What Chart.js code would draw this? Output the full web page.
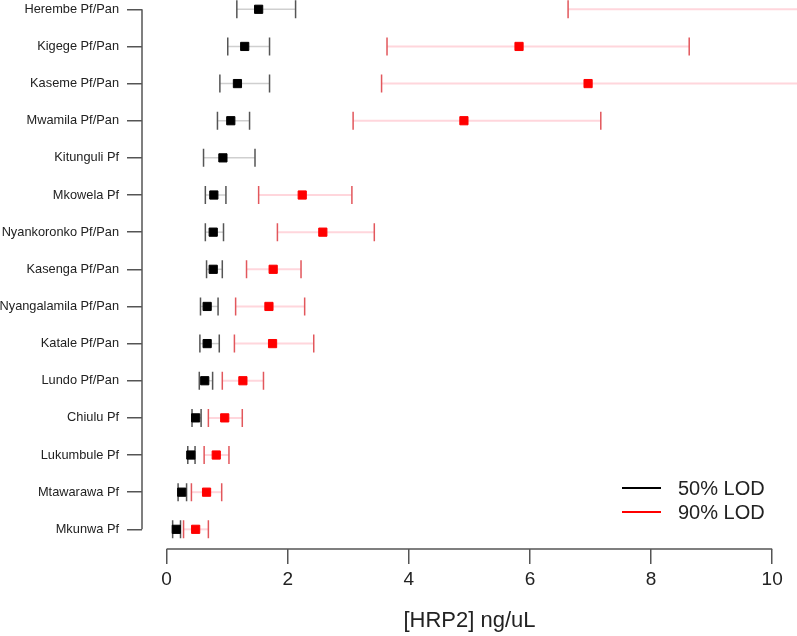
<!DOCTYPE html>
<html lang="en">
<head>
  <meta charset="UTF-8">
  <title>HRP2 LOD by site</title>
  <script src="https://cdn.jsdelivr.net/npm/chart.js"></script>
  <style>
    body { margin: 0; background: #fff; font-family: Arial, "Liberation Sans", sans-serif; }
    #wrap { position: relative; width: 797px; height: 636px; }
    .legend { position: absolute; left: 622px; top: 476px; font-size: 20px; color: #222; }
    .legend div { display: flex; align-items: center; height: 24px; }
    .legend .swatch { display: inline-block; width: 39px; height: 2px; margin-right: 17px; }
  </style>
</head>
<body>
  <div id="wrap">
    <canvas id="lodChart" width="797" height="636"></canvas>
    <div class="legend">
      <div><span class="swatch" style="background:#000"></span>50% LOD</div>
      <div><span class="swatch" style="background:#ff0000"></span>90% LOD</div>
    </div>
  </div>

  <script>
    // sites, top to bottom
    const sites = ['Herembe Pf/Pan', 'Kigege Pf/Pan', 'Kaseme Pf/Pan', 'Mwamila Pf/Pan', 'Kitunguli Pf',
      'Mkowela Pf', 'Nyankoronko Pf/Pan', 'Kasenga Pf/Pan', 'Nyangalamila Pf/Pan', 'Katale Pf/Pan',
      'Lundo Pf/Pan', 'Chiulu Pf', 'Lukumbule Pf', 'Mtawarawa Pf', 'Mkunwa Pf'];

    // 50% LOD estimate and interval (ng/uL)
    const lod50     = [1.52, 1.29, 1.17, 1.06, 0.93, 0.78, 0.77, 0.77, 0.67, 0.67, 0.63, 0.48, 0.40, 0.25, 0.16];
    const lod50Low  = [1.16, 1.01, 0.88, 0.84, 0.61, 0.64, 0.64, 0.66, 0.56, 0.55, 0.54, 0.42, 0.35, 0.19, 0.10];
    const lod50High = [2.13, 1.70, 1.70, 1.37, 1.46, 0.98, 0.94, 0.92, 0.85, 0.87, 0.76, 0.57, 0.47, 0.33, 0.23];

    // 90% LOD estimate and interval (Herembe/Kaseme run past the plot edge)
    const lod90     = [11.5, 5.82, 6.96, 4.91, null, 2.24, 2.58, 1.76, 1.69, 1.75, 1.26, 0.96, 0.82, 0.66, 0.48];
    const lod90Low  = [6.63, 3.64, 3.55, 3.08, null, 1.52, 1.83, 1.32, 1.14, 1.12, 0.92, 0.69, 0.62, 0.41, 0.28];
    const lod90High = [17.0, 8.63, 11.0, 7.17, null, 3.06, 3.43, 2.22, 2.28, 2.43, 1.60, 1.25, 1.03, 0.91, 0.69];

    const xTicks = [0, 2, 4, 6, 8, 10];

    const rowOf = i => sites.length - 1 - i;

    function toPoints(vals) {
      const pts = [];
      vals.forEach((v, i) => { if (v !== null) pts.push({ x: v, y: rowOf(i) }); });
      return pts;
    }

    // whiskers, caps and the R-style axis lines
    const errorBars = {
      id: 'errorBars',
      beforeDatasetsDraw(chart) {
        const { ctx, chartArea, scales: { x, y } } = chart;
        ctx.save();
        ctx.beginPath();
        ctx.rect(chartArea.left, chartArea.top, chartArea.right - chartArea.left, chartArea.bottom - chartArea.top);
        ctx.clip();

        function draw(lo, hi, lineColor, lineWidth, capColor) {
          lo.forEach((l, i) => {
            if (l === null) return;
            const py = y.getPixelForValue(rowOf(i));
            const x0 = x.getPixelForValue(l);
            const x1 = x.getPixelForValue(hi[i]);
            ctx.strokeStyle = lineColor;
            ctx.lineWidth = lineWidth;
            ctx.beginPath();
            ctx.moveTo(x0, py);
            ctx.lineTo(x1, py);
            ctx.stroke();
            ctx.strokeStyle = capColor;
            ctx.lineWidth = 1.5;
            ctx.beginPath();
            ctx.moveTo(x0, py - 9); ctx.lineTo(x0, py + 9);
            ctx.moveTo(x1, py - 9); ctx.lineTo(x1, py + 9);
            ctx.stroke();
          });
        }
        draw(lod90Low, lod90High, '#ffd6dc', 2, '#e2575c');
        draw(lod50Low, lod50High, '#cfcfcf', 1.5, '#555555');
        ctx.restore();

        // axis lines only between first and last tick
        ctx.save();
        ctx.strokeStyle = '#555555';
        ctx.lineWidth = 1.5;
        ctx.beginPath();
        ctx.moveTo(chartArea.left, y.getPixelForValue(sites.length - 1));
        ctx.lineTo(chartArea.left, y.getPixelForValue(0));
        ctx.moveTo(x.getPixelForValue(xTicks[0]), chartArea.bottom);
        ctx.lineTo(x.getPixelForValue(xTicks[xTicks.length - 1]), chartArea.bottom);
        ctx.stroke();
        ctx.restore();
      }
    };

    const ctx = document.getElementById('lodChart').getContext('2d');
    const lodChart = new Chart(ctx, {
      type: 'scatter',
      data: {
        datasets: [
          {
            label: '90% LOD',
            data: toPoints(lod90),
            pointStyle: 'rect',
            pointRadius: 5.8,
            borderWidth: 1,
            backgroundColor: '#ff0000',
            borderColor: '#ff0000'
          },
          {
            label: '50% LOD',
            data: toPoints(lod50),
            pointStyle: 'rect',
            pointRadius: 5.8,
            borderWidth: 1,
            backgroundColor: '#000000',
            borderColor: '#000000'
          }
        ]
      },
      options: {
        responsive: false,
        animation: false,
        layout: { padding: 0, autoPadding: false },
        plugins: {
          legend: { display: false },
          tooltip: { enabled: false }
        },
        scales: {
          x: {
            type: 'linear',
            min: -0.406,
            max: 10.41,
            afterFit: s => { s.height = 87; s.paddingLeft = 0; s.paddingRight = 0; },
            afterBuildTicks: s => { s.ticks = xTicks.map(v => ({ value: v })); },
            border: { display: false },
            grid: { drawOnChartArea: false, color: '#555555', lineWidth: 1.5, tickLength: 15 },
            ticks: {
              color: '#222',
              padding: 4,
              maxRotation: 0,
              font: { family: 'Arial, "Liberation Sans", sans-serif', size: 19 }
            },
            title: {
              display: true,
              text: '[HRP2] ng/uL',
              color: '#222',
              padding: { top: 0, bottom: 2 },
              font: { family: 'Arial, "Liberation Sans", sans-serif', size: 22 }
            }
          },
          y: {
            type: 'linear',
            min: -0.53,
            max: 14.25,
            afterFit: s => { s.width = 142; s.paddingTop = 0; s.paddingBottom = 0; },
            afterBuildTicks: s => { s.ticks = sites.map((_, i) => ({ value: rowOf(i) })); },
            border: { display: false },
            grid: { drawOnChartArea: false, color: '#555555', lineWidth: 1.5, tickLength: 15 },
            ticks: {
              color: '#222',
              padding: 8,
              autoSkip: false,
              font: { family: 'Arial, "Liberation Sans", sans-serif', size: 12.8 },
              callback: v => sites[rowOf(v)]
            }
          }
        }
      },
      plugins: [errorBars]
    });
  </script>
</body>
</html>
